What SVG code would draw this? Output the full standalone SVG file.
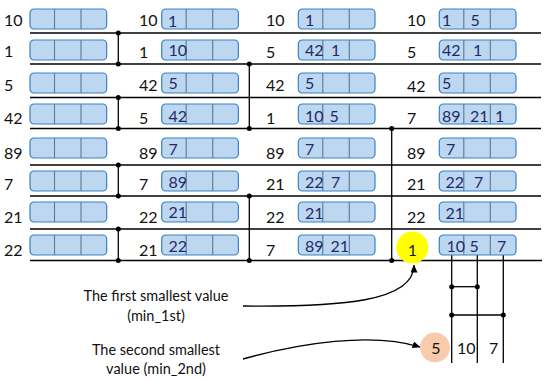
<svg xmlns="http://www.w3.org/2000/svg" width="550" height="381" viewBox="0 0 550 381">
<defs>
<style>
.lbl{font-family:Lato,"Liberation Sans",sans-serif;font-size:16px;fill:#111}
.in{font-family:Lato,"Liberation Sans",sans-serif;font-size:16px;fill:#1f2a6b}
.cap{font-family:Lato,"Liberation Sans",sans-serif;font-size:14.5px;fill:#111;text-anchor:middle}
.box{fill:#bcd7ef;stroke:#3a82c4;stroke-width:1.2}
.div{stroke:#5a7a96;stroke-width:1.1}
.ln{stroke:#000;stroke-width:1.3;fill:none}
.dot{fill:#000}
</style>
<g id="cell">
<rect class="box" x="0" y="0" width="76.7" height="20" rx="4"/>
<line class="div" x1="24.5" y1="0" x2="24.5" y2="20"/>
<line class="div" x1="51" y1="0" x2="51" y2="20"/>
</g>
<marker id="arr" markerWidth="8" markerHeight="7" refX="7.5" refY="3.5" orient="auto" markerUnits="userSpaceOnUse">
<path d="M0,0 L8,3.5 L0,7 z" fill="#000"/>
</marker>
</defs>
<rect width="550" height="381" fill="#fff"/>

<g id="connectors">
<line class="ln" x1="30" y1="33" x2="541" y2="33"/>
<line class="ln" x1="30" y1="64" x2="541" y2="64"/>
<line class="ln" x1="30" y1="97.5" x2="541" y2="97.5"/>
<line class="ln" x1="30" y1="128.5" x2="541" y2="128.5"/>
<line class="ln" x1="30" y1="165" x2="541" y2="165"/>
<line class="ln" x1="30" y1="196" x2="541" y2="196"/>
<line class="ln" x1="30" y1="229" x2="541" y2="229"/>
<line class="ln" x1="30" y1="260.5" x2="542" y2="260.5"/>
<line class="ln" x1="118.3" y1="33" x2="118.3" y2="64"/>
<line class="ln" x1="118.3" y1="97.5" x2="118.3" y2="128.5"/>
<line class="ln" x1="118.3" y1="165" x2="118.3" y2="196"/>
<line class="ln" x1="118.3" y1="229" x2="118.3" y2="260.5"/>
<line class="ln" x1="249.3" y1="64" x2="249.3" y2="128.5"/>
<line class="ln" x1="249.3" y1="196" x2="249.3" y2="260.5"/>
<line class="ln" x1="391.7" y1="128.5" x2="391.7" y2="260.5"/>
<g class="dot">
<circle cx="118.3" cy="33" r="2.5"/><circle cx="118.3" cy="64" r="2.5"/>
<circle cx="118.3" cy="97.5" r="2.5"/><circle cx="118.3" cy="128.5" r="2.5"/>
<circle cx="118.3" cy="165" r="2.5"/><circle cx="118.3" cy="196" r="2.5"/>
<circle cx="118.3" cy="229" r="2.5"/><circle cx="118.3" cy="260.5" r="2.5"/>
<circle cx="249.3" cy="64" r="2.5"/><circle cx="249.3" cy="128.5" r="2.5"/>
<circle cx="249.3" cy="196" r="2.5"/><circle cx="249.3" cy="260.5" r="2.5"/>
<circle cx="391.7" cy="128.5" r="2.5"/><circle cx="391.7" cy="260.5" r="2.5"/>
</g>
<line class="ln" x1="451.7" y1="255" x2="451.7" y2="363"/>
<line class="ln" x1="477.3" y1="255" x2="477.3" y2="363"/>
<line class="ln" x1="503.3" y1="255" x2="503.3" y2="363"/>
<line class="ln" x1="451.7" y1="286.7" x2="477.3" y2="286.7"/>
<line class="ln" x1="451.7" y1="315" x2="503.3" y2="315"/>
<g class="dot">
<circle cx="451.7" cy="286.7" r="2.5"/><circle cx="477.3" cy="286.7" r="2.5"/>
<circle cx="451.7" cy="315" r="2.5"/><circle cx="503.3" cy="315" r="2.5"/>
</g>
<path class="ln" d="M243,306 C340,307 414,302 414,265" marker-end="url(#arr)"/>
<path class="ln" d="M243,359 C300,343 372,332 420,347" marker-end="url(#arr)"/>
</g>

<g id="col1">
<use href="#cell" x="30" y="9"/><use href="#cell" x="30" y="40"/>
<use href="#cell" x="30" y="73"/><use href="#cell" x="30" y="104"/>
<use href="#cell" x="30" y="138"/><use href="#cell" x="30" y="171"/>
<use href="#cell" x="30" y="202"/><use href="#cell" x="30" y="235"/>
<text class="lbl" x="4" y="25.5">10</text>
<text class="lbl" x="4" y="57">1</text>
<text class="lbl" x="4" y="91">5</text>
<text class="lbl" x="4" y="123.5">42</text>
<text class="lbl" x="4" y="158.5">89</text>
<text class="lbl" x="4" y="190">7</text>
<text class="lbl" x="4" y="222.5">21</text>
<text class="lbl" x="4" y="255.5">22</text>
</g>

<g id="col2">
<use href="#cell" x="161.7" y="9"/><use href="#cell" x="161.7" y="40"/>
<use href="#cell" x="161.7" y="73"/><use href="#cell" x="161.7" y="104"/>
<use href="#cell" x="161.7" y="138"/><use href="#cell" x="161.7" y="171"/>
<use href="#cell" x="161.7" y="202"/><use href="#cell" x="161.7" y="235"/>
<text class="lbl" x="139" y="26">10</text>
<text class="lbl" x="139" y="58">1</text>
<text class="lbl" x="139" y="91">42</text>
<text class="lbl" x="139" y="124">5</text>
<text class="lbl" x="139" y="158.5">89</text>
<text class="lbl" x="139" y="190">7</text>
<text class="lbl" x="139" y="222.5">22</text>
<text class="lbl" x="139" y="255.5">21</text>
<text class="in" x="168" y="26.5">1</text>
<text class="in" x="168.5" y="55.5">10</text>
<text class="in" x="168.5" y="88.5">5</text>
<text class="in" x="168.5" y="121.5">42</text>
<text class="in" x="168.5" y="155">7</text>
<text class="in" x="168.5" y="188">89</text>
<text class="in" x="168.5" y="218">21</text>
<text class="in" x="168.5" y="251.5">22</text>
</g>

<g id="col3">
<use href="#cell" x="298.3" y="9"/><use href="#cell" x="298.3" y="40"/>
<use href="#cell" x="298.3" y="73"/><use href="#cell" x="298.3" y="104"/>
<use href="#cell" x="298.3" y="138"/><use href="#cell" x="298.3" y="171"/>
<use href="#cell" x="298.3" y="202"/><use href="#cell" x="298.3" y="235"/>
<text class="lbl" x="266" y="26">10</text>
<text class="lbl" x="266" y="58">5</text>
<text class="lbl" x="266" y="91">42</text>
<text class="lbl" x="266" y="124">1</text>
<text class="lbl" x="266" y="158.5">89</text>
<text class="lbl" x="266" y="190">21</text>
<text class="lbl" x="266" y="223">22</text>
<text class="lbl" x="266" y="256">7</text>
<text class="in" x="305" y="26">1</text>
<text class="in" x="305" y="55.5">42</text><text class="in" x="331" y="55.5">1</text>
<text class="in" x="305" y="89">5</text>
<text class="in" x="305" y="121.5">10</text><text class="in" x="329.5" y="121.5">5</text>
<text class="in" x="305" y="155">7</text>
<text class="in" x="305" y="188">22</text><text class="in" x="331" y="188">7</text>
<text class="in" x="305" y="218.5">21</text>
<text class="in" x="305" y="252">89</text><text class="in" x="330.5" y="252">21</text>
</g>

<g id="col4">
<use href="#cell" x="439.3" y="9"/><use href="#cell" x="439.3" y="40"/>
<use href="#cell" x="439.3" y="73"/><use href="#cell" x="439.3" y="104"/>
<use href="#cell" x="439.3" y="138"/><use href="#cell" x="439.3" y="171"/>
<use href="#cell" x="439.3" y="202"/><use href="#cell" x="439.3" y="235"/>
<text class="lbl" x="407" y="25.5">10</text>
<text class="lbl" x="407" y="57.5">5</text>
<text class="lbl" x="407" y="91.5">42</text>
<text class="lbl" x="407" y="124">7</text>
<text class="lbl" x="407" y="158.5">89</text>
<text class="lbl" x="407" y="190">21</text>
<text class="lbl" x="407" y="223">22</text>
<text class="in" x="442" y="26">1</text><text class="in" x="470.5" y="26">5</text>
<text class="in" x="442" y="56">42</text><text class="in" x="473" y="56">1</text>
<text class="in" x="442" y="89">5</text>
<text class="in" x="442" y="121.5">89</text><text class="in" x="470" y="121.5">21</text><text class="in" x="495" y="121.5">1</text>
<text class="in" x="446" y="155">7</text>
<text class="in" x="445.5" y="188">22</text><text class="in" x="474" y="188">7</text>
<text class="in" x="445.5" y="219">21</text>
<text class="in" x="446.5" y="252">10</text><text class="in" x="469.5" y="252">5</text><text class="in" x="497" y="252">7</text>
</g>

<g id="min1">
<circle cx="412.3" cy="247.5" r="16" fill="#ffff00"/>
<text class="lbl" x="412.3" y="255.5" text-anchor="middle" style="fill:#1a1a33">1</text>
</g>

<g id="min2">
<circle cx="435" cy="347.5" r="15" fill="#f8cbad"/>
<text class="lbl" x="436" y="353.5" text-anchor="middle">5</text>
<text class="lbl" x="457" y="353.5">10</text>
<text class="lbl" x="489" y="353.5">7</text>
</g>

<g id="caption1">
<text class="cap" x="156" y="300.5">The first smallest value</text>
<text class="cap" x="156" y="320.5">(min_1st)</text>
</g>
<g id="caption2">
<text class="cap" x="156" y="355">The second smallest</text>
<text class="cap" x="156" y="373.5">value (min_2nd)</text>
</g>
</svg>
